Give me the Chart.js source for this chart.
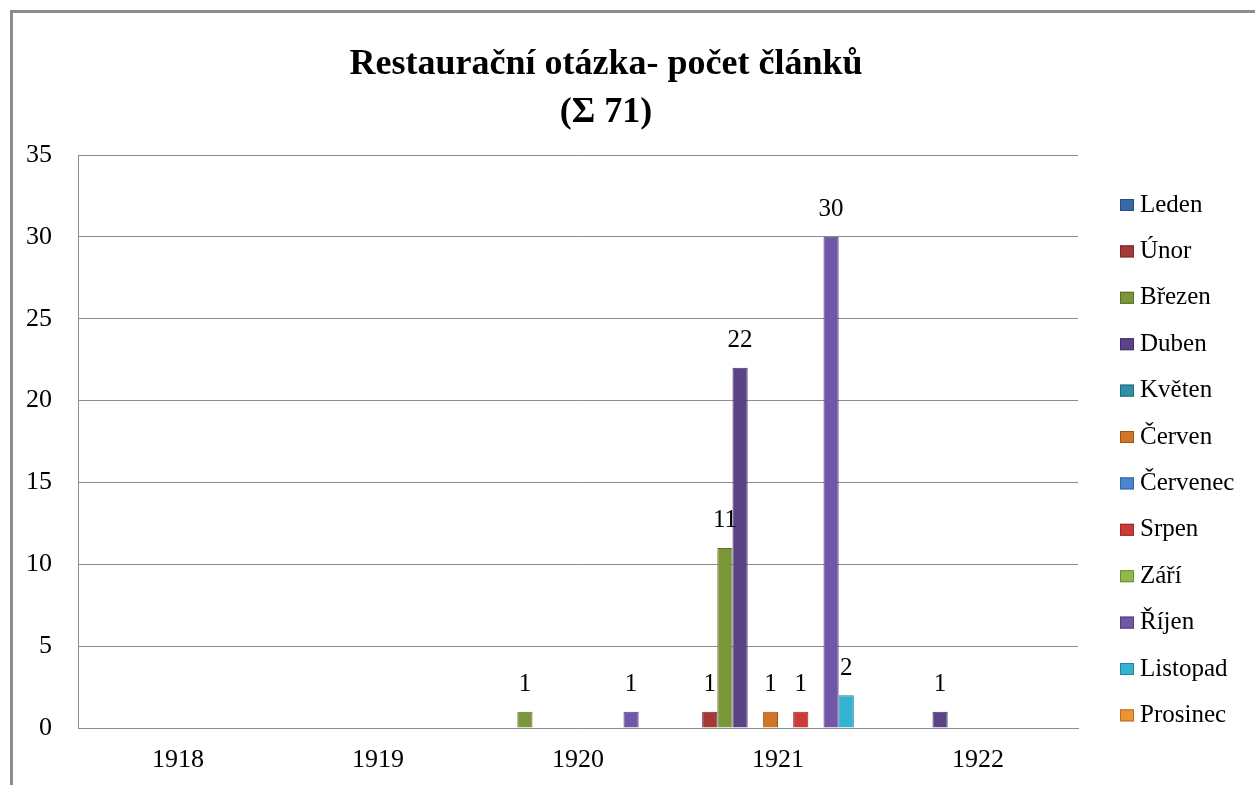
<!DOCTYPE html>
<html>
<head>
<meta charset="utf-8">
<script src="https://cdn.jsdelivr.net/npm/chart.js@4.4.1/dist/chart.umd.min.js"></script>
<style>
  html, body { margin: 0; padding: 0; background: #fff; overflow: hidden; }
  #frame { position: absolute; left: 10px; top: 10px; width: 1300px; height: 820px; border: 3px solid #8c8c8c; }
  #wrap { position: absolute; left: 0; top: 0; width: 1255px; height: 785px; }
</style>
</head>
<body>
<div id="frame"></div>
<div id="wrap"><canvas id="chart" width="1255" height="785"></canvas></div>
<script>
const years = ["1918", "1919", "1920", "1921", "1922"];
const months = ["Leden", "Únor", "Březen", "Duben", "Květen", "Červen",
                "Červenec", "Srpen", "Září", "Říjen", "Listopad", "Prosinec"];

// pocet clanku podle mesice a roku
const leden    = [0, 0, 0, 0, 0];
const unor     = [0, 0, 0, 1, 0];
const brezen   = [0, 0, 1, 11, 0];
const duben    = [0, 0, 0, 22, 1];
const kveten   = [0, 0, 0, 0, 0];
const cerven   = [0, 0, 0, 1, 0];
const cervenec = [0, 0, 0, 0, 0];
const srpen    = [0, 0, 0, 1, 0];
const zari     = [0, 0, 0, 0, 0];
const rijen    = [0, 0, 1, 30, 0];
const listopad = [0, 0, 0, 2, 0];
const prosinec = [0, 0, 0, 0, 0];

const yTicks = [0, 5, 10, 15, 20, 25, 30, 35];

const titleLines = ["Restaurační otázka- počet článků", "(Σ 71)"];

const series = [leden, unor, brezen, duben, kveten, cerven, cervenec, srpen, zari, rijen, listopad, prosinec];
const colors = ["#3a67a8", "#a33a37", "#7a953a", "#5b4388", "#2f90a8", "#cf7627",
                "#4a86cf", "#cc3b38", "#93b84a", "#7256a8", "#33b2d2", "#f09335"];
const borders = ["#2a4d80", "#7a2826", "#5b7028", "#42306a", "#216b7e", "#9c561a",
                 "#3565a0", "#9a2a28", "#6e8b34", "#54407e", "#24849c", "#b86c22"];

const FONT = "'Liberation Serif', 'Times New Roman', serif";

const datasets = series.map((values, i) => ({
    label: months[i],
    data: values,
    backgroundColor: colors[i],
    borderColor: borders[i],
    borderWidth: ctx => (ctx.raw > 0 ? 1 : 0),
    categoryPercentage: 0.91,
    barPercentage: 1.0
}));

// popisky hodnot nad sloupci
const valueLabels = {
    id: "valueLabels",
    afterDatasetsDraw(chart) {
        const c = chart.ctx;
        c.save();
        c.font = "25px " + FONT;
        c.fillStyle = "#000";
        c.textAlign = "center";
        c.textBaseline = "middle";
        chart.data.datasets.forEach((ds, di) => {
            const meta = chart.getDatasetMeta(di);
            meta.data.forEach((bar, i) => {
                const v = ds.data[i];
                if (v > 0) c.fillText(String(v), bar.x, bar.y - 27);
            });
        });
        c.restore();
    }
};

// nadpis
const titlePlugin = {
    id: "titlePlugin",
    afterDraw(chart) {
        const c = chart.ctx;
        c.save();
        c.font = "bold 36px " + FONT;
        c.fillStyle = "#000";
        c.textAlign = "center";
        c.textBaseline = "middle";
        c.fillText(titleLines[0], 606, 65);
        c.fillText(titleLines[1], 606, 113);
        c.restore();
    }
};

// legenda vpravo
const sideLegend = {
    id: "sideLegend",
    afterDraw(chart) {
        const c = chart.ctx;
        c.save();
        c.font = "25px " + FONT;
        c.textBaseline = "middle";
        c.textAlign = "left";
        chart.data.datasets.forEach((ds, i) => {
            const y = 205 + i * 46.4;
            c.fillStyle = ds.backgroundColor;
            c.fillRect(1120, y - 6, 14, 12);
            c.strokeStyle = borders[i];
            c.lineWidth = 1;
            c.strokeRect(1120.5, y - 5.5, 13, 11);
            c.fillStyle = "#000";
            c.fillText(ds.label, 1140, y);
        });
        c.restore();
    }
};

const config = {
    type: "bar",
    data: { labels: years, datasets: datasets },
    options: {
        responsive: false,
        animation: false,
        layout: { padding: { left: 0, top: 155, right: 177, bottom: 0 } },
        plugins: {
            legend: { display: false },
            title: { display: false },
            tooltip: { enabled: false }
        },
        scales: {
            x: {
                grid: { display: false, drawTicks: false },
                border: { display: true, color: "#8c8c8c", width: 1 },
                ticks: { color: "#000", font: { family: FONT, size: 26 }, padding: 17 },
                afterFit: scale => { scale.height = 57; }
            },
            y: {
                min: 0,
                max: 35,
                afterBuildTicks: scale => { scale.ticks = yTicks.map(v => ({ value: v })); },
                grid: { color: "#8c8c8c", lineWidth: 1, drawTicks: false },
                border: { display: true, color: "#8c8c8c", width: 1 },
                ticks: { color: "#000", font: { family: FONT, size: 26 }, padding: 26 },
                afterFit: scale => { scale.width = 78; }
            }
        }
    },
    plugins: [valueLabels, titlePlugin, sideLegend]
};

new Chart(document.getElementById("chart"), config);
</script>
</body>
</html>
